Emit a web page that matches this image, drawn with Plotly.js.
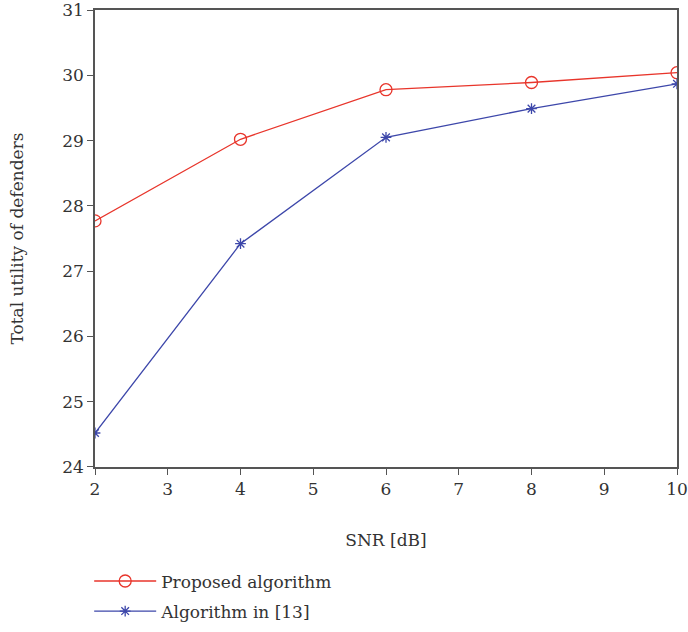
<!DOCTYPE html>
<html><head><meta charset="utf-8">
<script src="https://cdn.plot.ly/plotly-3.0.1.min.js"></script>
<style>body{margin:0}</style></head>
<body><div id="chart" style="width:688px;height:632px"></div>
<script>
const snr = [2, 4, 6, 8, 10];
const proposed = [27.77, 29.02, 29.78, 29.89, 30.04];
const algo13 = [24.52, 27.42, 29.05, 29.49, 29.87];
const xTicks = [2,3,4,5,6,7,8,9,10];
const yTicks = [24,25,26,27,28,29,30,31];
const font = "'Palatino Linotype', 'Book Antiqua', Palatino, 'DejaVu Serif', 'Liberation Serif', serif";
const traces = [
 {x: snr, y: proposed, name: 'Proposed algorithm', mode: 'lines+markers', legendgroup: 'a',
  line: {color: '#e8352b', width: 1.3},
  marker: {symbol: 'circle-open', size: 12, color: '#e8352b', line: {width: 1.3}}},
 {x: snr, y: algo13, name: 'Algorithm in [13]', mode: 'lines+markers', legendgroup: 'b',
  line: {color: '#3d47aa', width: 1.3},
  marker: {symbol: 'asterisk-open', size: 9, color: '#3d47aa', line: {width: 1.3, color: '#3d47aa'}}}
];
const axisCommon = {showline: true, linecolor: '#555', linewidth: 1.5, mirror: true, ticks: 'outside',
  ticklen: 6, tickcolor: '#555', tickwidth: 1.3, showgrid: false, zeroline: false, automargin: false,
  tickfont: {family: font, size: 17, color: '#333'}};
const layout = {
  width: 688, height: 632,
  margin: {l: 95, r: 11, t: 10, b: 165, autoexpand: false},
  paper_bgcolor: '#fff', plot_bgcolor: '#fff',
  font: {family: font, color: '#333', size: 17},
  xaxis: Object.assign({}, axisCommon, {range: [2, 10], tickvals: xTicks,
    title: {text: 'SNR [dB]', font: {family: font, size: 17, color: '#333'}, standoff: 36}}),
  yaxis: Object.assign({}, axisCommon, {range: [23.999, 31.001], tickvals: yTicks,
    title: {text: 'Total utility of defenders', font: {family: font, size: 17, color: '#333'}, standoff: 34}}),
  showlegend: true,
  legend: {x: -0.01, xanchor: 'left', y: -0.211, yanchor: 'top', orientation: 'v',
    font: {family: font, size: 17, color: '#333'}, bgcolor: 'rgba(0,0,0,0)', tracegroupgap: 5, itemwidth: 62}
};
Plotly.newPlot('chart', traces, layout, {displayModeBar: false});
</script></body></html>
